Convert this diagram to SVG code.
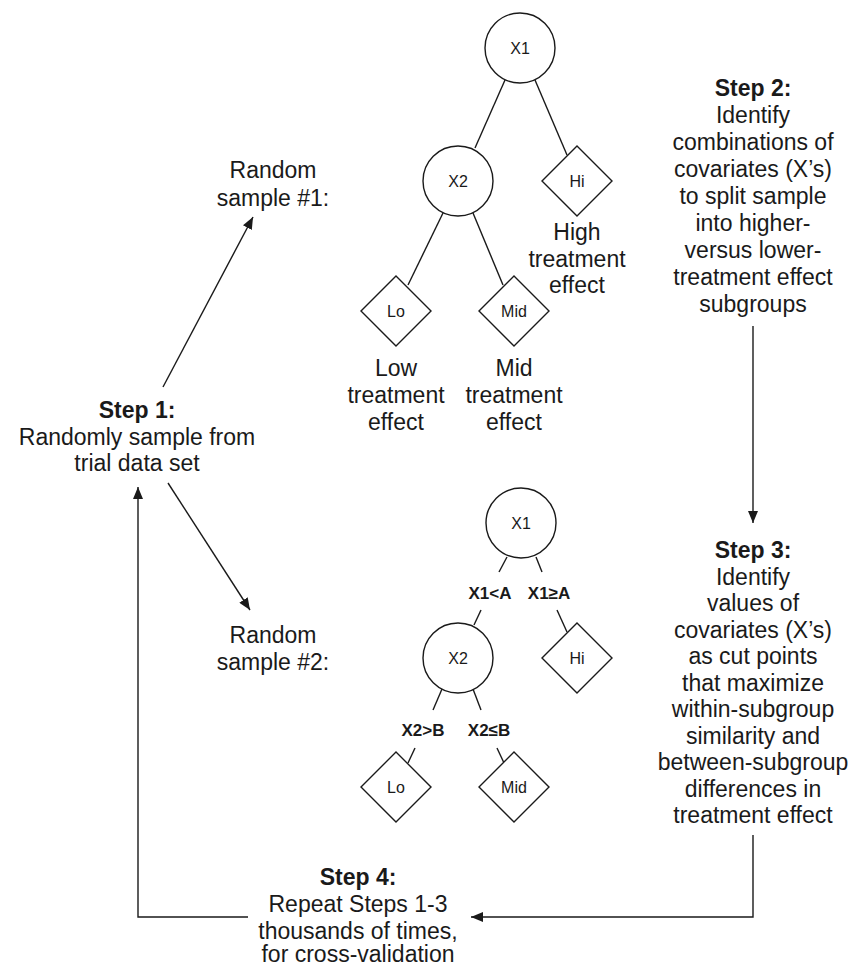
<svg xmlns="http://www.w3.org/2000/svg" width="854" height="968" viewBox="0 0 854 968">
<defs>
<style>
text{font-family:"Liberation Sans",Arial,sans-serif;fill:#1a1a1a;text-anchor:middle}
.t{font-size:23px}
.b{font-size:23px;font-weight:bold}
.n{font-size:16px}
.e{font-size:17px;font-weight:bold}
.shape{fill:#fff;stroke:#1a1a1a;stroke-width:1.4}
.ln{fill:none;stroke:#1a1a1a;stroke-width:1.4}
</style>
<marker id="ah" viewBox="0 0 12 10" refX="12" refY="5" markerWidth="12" markerHeight="10" orient="auto" markerUnits="userSpaceOnUse"><path d="M0,0 L12,5 L0,10 z" fill="#1a1a1a"/></marker>
</defs>
<rect width="854" height="968" fill="#fff"/>

<g id="connectors">
<line class="ln" x1="505" y1="80" x2="475" y2="148"/>
<line class="ln" x1="535" y1="80" x2="567" y2="155"/>
<line class="ln" x1="443" y1="213" x2="408" y2="285"/>
<line class="ln" x1="473" y1="213" x2="503" y2="285"/>
<line class="ln" x1="507" y1="557" x2="499" y2="572"/>
<line class="ln" x1="536" y1="557" x2="542" y2="572"/>
<line class="ln" x1="481" y1="610" x2="474" y2="625"/>
<line class="ln" x1="557" y1="610" x2="567" y2="632"/>
<line class="ln" x1="442" y1="689" x2="433" y2="710"/>
<line class="ln" x1="473" y1="689" x2="481" y2="710"/>
<line class="ln" x1="415" y1="748" x2="408" y2="763"/>
<line class="ln" x1="497" y1="748" x2="504" y2="763"/>
<line class="ln" x1="163" y1="387" x2="253" y2="217" marker-end="url(#ah)"/>
<line class="ln" x1="168" y1="483" x2="250" y2="610" marker-end="url(#ah)"/>
<line class="ln" x1="753" y1="326" x2="753" y2="523" marker-end="url(#ah)"/>
<path class="ln" d="M753,835 V917 H471" marker-end="url(#ah)"/>
<path class="ln" d="M248,917 H138 V487" marker-end="url(#ah)"/>
</g>

<g id="step1">
<text class="b" x="137" y="418">Step 1:</text>
<text class="t" x="137" y="444.5">Randomly sample from</text>
<text class="t" x="137" y="471">trial data set</text>
</g>

<g id="sample1-label">
<text class="t" x="273" y="178">Random</text>
<text class="t" x="273" y="206">sample #1:</text>
</g>
<g id="sample2-label">
<text class="t" x="273" y="643">Random</text>
<text class="t" x="273" y="670">sample #2:</text>
</g>

<g id="t1-x1"><circle class="shape" cx="520" cy="48" r="35"/><text class="n" x="520" y="53.5">X1</text></g>
<g id="t1-x2"><circle class="shape" cx="458" cy="181" r="35"/><text class="n" x="458" y="186.5">X2</text></g>
<g id="t1-hi"><polygon class="shape" points="577,146 612,181 577,216 542,181"/><text class="n" x="577" y="186.5">Hi</text></g>
<g id="t1-lo"><polygon class="shape" points="396,276 431,311 396,346 361,311"/><text class="n" x="396" y="316.5">Lo</text></g>
<g id="t1-mid"><polygon class="shape" points="514,276 549,311 514,346 479,311"/><text class="n" x="514" y="316.5">Mid</text></g>

<g id="t1-high-label">
<text class="t" x="577" y="240">High</text>
<text class="t" x="577" y="266.5">treatment</text>
<text class="t" x="577" y="293">effect</text>
</g>
<g id="t1-low-label">
<text class="t" x="396" y="376">Low</text>
<text class="t" x="396" y="403">treatment</text>
<text class="t" x="396" y="430">effect</text>
</g>
<g id="t1-mid-label">
<text class="t" x="514" y="376">Mid</text>
<text class="t" x="514" y="403">treatment</text>
<text class="t" x="514" y="430">effect</text>
</g>

<g id="step2">
<text class="b" x="753" y="96">Step 2:</text>
<text class="t" x="753" y="123">Identify</text>
<text class="t" x="753" y="150">combinations of</text>
<text class="t" x="753" y="177">covariates (X’s)</text>
<text class="t" x="753" y="204">to split sample</text>
<text class="t" x="753" y="231">into higher-</text>
<text class="t" x="753" y="258">versus lower-</text>
<text class="t" x="753" y="285">treatment effect</text>
<text class="t" x="753" y="312">subgroups</text>
</g>

<g id="t2-x1"><circle class="shape" cx="521" cy="523" r="35"/><text class="n" x="521" y="528.5">X1</text></g>
<g id="t2-x2"><circle class="shape" cx="458" cy="658" r="35"/><text class="n" x="458" y="663.5">X2</text></g>
<g id="t2-hi"><polygon class="shape" points="577,623 612,658 577,693 542,658"/><text class="n" x="577" y="663.5">Hi</text></g>
<g id="t2-lo"><polygon class="shape" points="396,752 431,787 396,822 361,787"/><text class="n" x="396" y="792.5">Lo</text></g>
<g id="t2-mid"><polygon class="shape" points="514,752 549,787 514,822 479,787"/><text class="n" x="514" y="792.5">Mid</text></g>
<g id="t2-edge-labels">
<text class="e" x="490" y="599">X1&lt;A</text>
<text class="e" x="549" y="599">X1≥A</text>
<text class="e" x="423" y="736">X2&gt;B</text>
<text class="e" x="489" y="736">X2≤B</text>
</g>

<g id="step3">
<text class="b" x="753" y="558">Step 3:</text>
<text class="t" x="753" y="584.5">Identify</text>
<text class="t" x="753" y="611">values of</text>
<text class="t" x="753" y="637.5">covariates (X’s)</text>
<text class="t" x="753" y="664">as cut points</text>
<text class="t" x="753" y="690.5">that maximize</text>
<text class="t" x="753" y="717">within-subgroup</text>
<text class="t" x="753" y="743.5">similarity and</text>
<text class="t" x="753" y="770">between-subgroup</text>
<text class="t" x="753" y="796.5">differences in</text>
<text class="t" x="753" y="823">treatment effect</text>
</g>

<g id="step4">
<text class="b" x="358" y="885">Step 4:</text>
<text class="t" x="358" y="912">Repeat Steps 1-3</text>
<text class="t" x="358" y="938.5">thousands of times,</text>
<text class="t" x="358" y="962">for cross-validation</text>
</g>
</svg>
